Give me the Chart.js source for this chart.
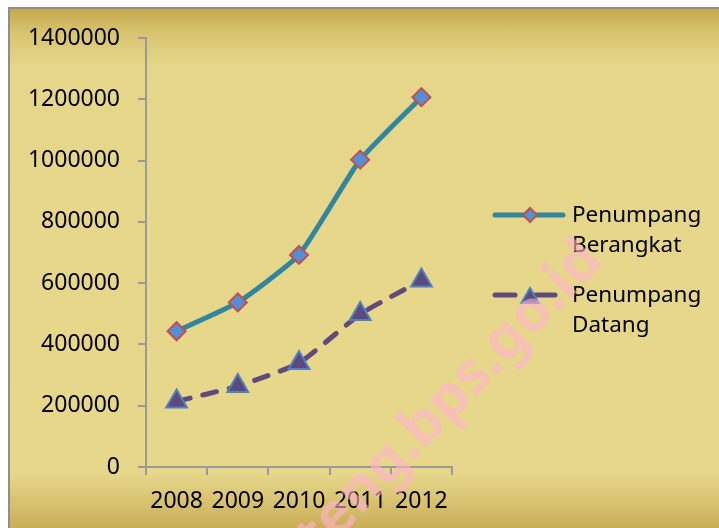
<!DOCTYPE html>
<html lang="id">
<head>
  <meta charset="UTF-8" />
  <title>Penumpang Berangkat dan Datang 2008-2012</title>
  <script src="https://cdn.jsdelivr.net/npm/chart.js"></script>
  <style>
    body {
      margin: 0;
      background: #fff;
      width: 719px;
      height: 528px;
      overflow: hidden;
      position: relative;
    }
    .frame {
      position: absolute;
      left: 8px;
      top: 7px;
      width: 711px;
      height: 521px;
      border-left: 2px solid #8e8e8e;
      border-top: 2px solid #8e8e8e;
      background: linear-gradient(to bottom, #c5a94f 0%, #d9c672 5%, #e5d68a 11%, #e6d78b 89%, #dcc878 93%, #c8ac55 100%);
    }
    canvas {
      position: absolute;
      left: 0;
      top: 0;
    }
  </style>
</head>
<body>
  <div class="frame"></div>
  <canvas id="paxChart" width="719" height="528"></canvas>

  <script>
    const years = ['2008', '2009', '2010', '2011', '2012'];
    const berangkat = [443000, 537000, 692000, 1003000, 1207000];
    const datang = [214000, 264000, 339000, 499000, 609000];
    const seriesNames = [['Penumpang', 'Berangkat'], ['Penumpang', 'Datang']];

    const FONT = '"Noto Sans", "Open Sans", sans-serif';

    // legend on the right, names wrap onto two lines
    const sideLegend = {
      id: 'sideLegend',
      afterDatasetsDraw(chart) {
        const ctx = chart.ctx;
        const rows = [215, 295];
        chart.data.datasets.forEach((ds, i) => {
          const y = rows[i];
          ctx.save();
          ctx.strokeStyle = ds.borderColor;
          ctx.lineWidth = ds.borderWidth;
          ctx.lineCap = 'round';
          ctx.setLineDash(ds.borderDash ? [20, 20] : []);
          ctx.beginPath();
          ctx.moveTo(495, y);
          ctx.lineTo(563, y);
          ctx.stroke();
          ctx.setLineDash([]);
          ctx.fillStyle = ds.pointBackgroundColor;
          ctx.strokeStyle = ds.pointBorderColor;
          ctx.lineWidth = ds.pointBorderWidth;
          Chart.helpers.drawPoint(ctx, {
            pointStyle: ds.pointStyle,
            radius: ds.pointRadius - 2,
            borderWidth: ds.pointBorderWidth,
            rotation: 0
          }, 530, y + (ds.pointStyle === 'triangle' ? 3 : 0));
          ctx.fillStyle = '#000';
          ctx.font = '22.5px ' + FONT;
          ctx.textBaseline = 'middle';
          ctx.textAlign = 'left';
          seriesNames[i].forEach((t, k) => ctx.fillText(t, 572, y + 1 + k * 30));
          ctx.restore();
        });
      }
    };

    // site stamp that runs across the picture
    const stamp = {
      id: 'stamp',
      afterDraw(chart) {
        const ctx = chart.ctx;
        ctx.save();
        ctx.translate(432, 418);
        ctx.rotate(-46 * Math.PI / 180);
        ctx.font = 'bold 58px ' + FONT;
        ctx.fillStyle = 'rgba(255, 178, 205, 0.6)';
        ctx.textAlign = 'center';
        ctx.textBaseline = 'middle';
        ctx.fillText('jateng.bps.go.id', 0, 0);
        ctx.restore();
      }
    };

    new Chart(document.getElementById('paxChart'), {
      type: 'line',
      data: {
        labels: years,
        datasets: [{
          label: 'Penumpang Berangkat',
          data: berangkat,
          borderColor: '#31869e',
          borderWidth: 5,
          tension: 0.15,
          pointStyle: 'rectRot',
          pointRadius: 9,
          pointBackgroundColor: '#558ed5',
          pointBorderColor: '#c0504d',
          pointBorderWidth: 2
        }, {
          label: 'Penumpang Datang',
          data: datang,
          borderColor: '#604a7b',
          borderWidth: 5,
          borderDash: [14, 13],
          borderCapStyle: 'round',
          tension: 0.15,
          pointStyle: 'triangle',
          pointRadius: 12,
          pointBackgroundColor: '#5b4a80',
          pointBorderColor: '#4f81bd',
          pointBorderWidth: 2
        }]
      },
      options: {
        responsive: false,
        animation: false,
        layout: { padding: { left: 0, top: 38, right: 267, bottom: 0 } },
        plugins: {
          legend: { display: false },
          tooltip: { enabled: false }
        },
        scales: {
          x: {
            offset: true,
            afterFit(scale) { scale.height = 61; },
            grid: {
              offset: true,
              drawOnChartArea: false,
              tickLength: 8,
              color: '#9a9a9a',
              lineWidth: 2
            },
            border: { color: '#9a9a9a', width: 2 },
            ticks: {
              padding: 13,
              color: '#000',
              font: { family: FONT, size: 23 }
            }
          },
          y: {
            min: 0,
            max: 1400000,
            afterFit(scale) { scale.width = 146; },
            grid: {
              drawOnChartArea: false,
              tickLength: 8,
              color: '#9a9a9a',
              lineWidth: 2
            },
            border: { color: '#9a9a9a', width: 2 },
            ticks: {
              stepSize: 200000,
              padding: 18,
              color: '#000',
              font: { family: FONT, size: 23 },
              callback: v => String(v)
            }
          }
        }
      },
      plugins: [sideLegend, stamp]
    });
  </script>
</body>
</html>
